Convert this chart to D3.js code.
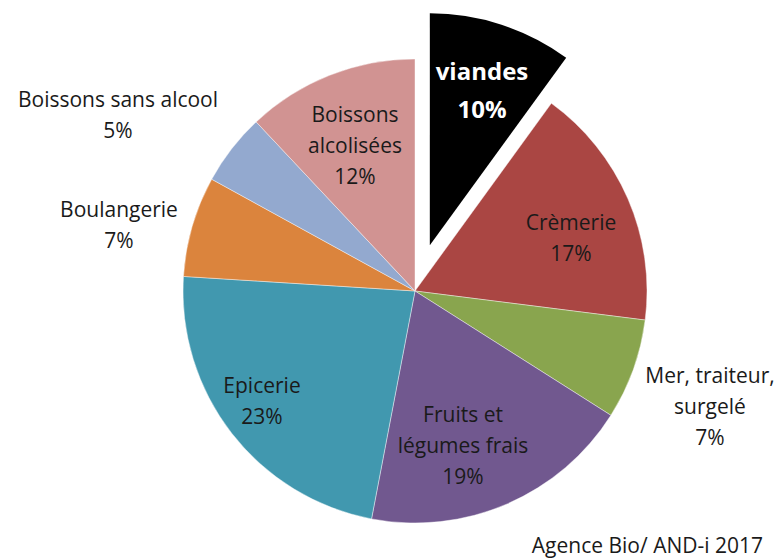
<!DOCTYPE html>
<html><head><meta charset="utf-8">
<script src="https://cdn.jsdelivr.net/npm/d3@7"></script>
<style>
html,body{margin:0;padding:0;background:#fff;}
svg{display:block;}
text{font-family:"Open Sans", Lato, sans-serif;}
</style></head>
<body>
<script>
// ---- data ----
const categories = ["viandes","Crèmerie","Mer, traiteur, surgelé","Fruits et légumes frais","Epicerie","Boulangerie","Boissons sans alcool","Boissons alcoolisées"];
const values = [10,17,7,19,23,7,5,12];
const labelLines = [["viandes"],["Crèmerie"],["Mer, traiteur,","surgelé"],["Fruits et","légumes frais"],["Epicerie"],["Boulangerie"],["Boissons sans alcool"],["Boissons","alcolisées"]];
const sourceText = "Agence Bio/ AND-i 2017";

// ---- style / layout ----
const colors = ["#000000","#AA4643","#89A54E","#71588F","#4198AF","#DB843D","#93A9CF","#D19392"];
const W = 784, H = 559;
const cx = 415, cy = 291, R = 232, explode = 48;
const explodedIndex = 0;
// label anchor offsets (centre x, first baseline y) relative to pie centre
const labelPos = [[67,-211],[156,-61],[295,92],[48,131],[-153,102],[-296,-74],[-297,-184],[-60,-169]];
const lineH = 31;

const svg = d3.select("body").append("svg").attr("width",W).attr("height",H);
const g = svg.append("g").attr("transform",`translate(${cx},${cy})`);

const pie = d3.pie().sort(null).value(d=>d)(values);
const arc = d3.arc().innerRadius(0).outerRadius(R);

pie.forEach((p,i)=>{
  const mid = (p.startAngle+p.endAngle)/2;
  const off = i===explodedIndex ? explode : 0;
  const dx = Math.sin(mid)*off, dy = -Math.cos(mid)*off;
  g.append("path").attr("d",arc(p))
    .attr("transform",`translate(${dx},${dy})`)
    .attr("fill",colors[i])
    .attr("stroke", i===explodedIndex ? "none" : "#ffffff")
    .attr("stroke-width",0.7)
    .attr("stroke-opacity",0.6);
});

pie.forEach((p,i)=>{
  const lines = labelLines[i].concat([values[i]+"%"]);
  const isEx = i===explodedIndex;
  const t = g.append("text")
    .attr("text-anchor","middle")
    .attr("font-size", isEx?24:21)
    .attr("font-weight", isEx?"bold":"normal")
    .attr("fill", isEx?"#ffffff":"#1a1a1a");
  lines.forEach((l,k)=>{
    t.append("tspan").attr("x",labelPos[i][0]).attr("y",labelPos[i][1]+k*(isEx?38:lineH)).text(l);
  });
});

svg.append("text").attr("x",763).attr("y",553).attr("text-anchor","end")
  .attr("font-size",21).attr("fill","#1a1a1a").text(sourceText);
</script>
</body></html>
